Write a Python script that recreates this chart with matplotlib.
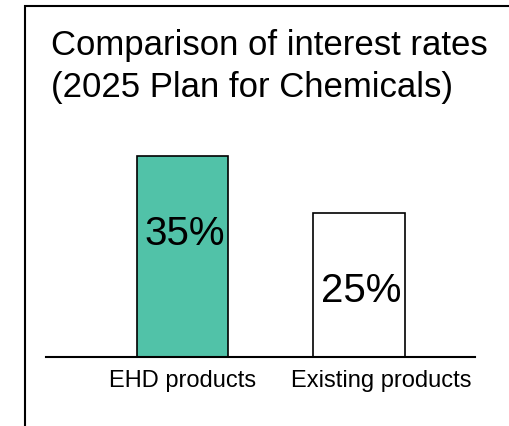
import matplotlib
matplotlib.use("Agg")
import matplotlib.pyplot as plt
import matplotlib.transforms as mtransforms
from matplotlib.patches import Rectangle

plt.rcParams["font.family"] = ["Liberation Sans", "DejaVu Sans"]

title_lines = ["Comparison of interest rates", "(2025 Plan for Chemicals)"]
categories = ["EHD products", "Existing products"]
rates = [35, 25]
value_labels = ["35%", "25%"]
bar_colors = ["#51C2A8", "#FFFFFF"]

W, H = 510, 426
fig = plt.figure(figsize=(W / 100, H / 100), dpi=100)

# frame around the slide panel (clipped at right and bottom like the source)
fig.patches.append(Rectangle((25 / W, -0.2), 1.2, 1.2 - 6 / H,
                             transform=fig.transFigure, fill=False,
                             edgecolor="black", linewidth=1.5))

fig.text(51 / W, 1 - 55 / H, title_lines[0], fontsize=25, va="baseline", ha="left")
fig.text(51 / W, 1 - 97 / H, title_lines[1], fontsize=25, va="baseline", ha="left")

ax = fig.add_axes([46 / W, 1 - 357 / H, (475 - 46) / W, (357 - 127) / H])
x = list(range(len(categories)))
bars = ax.bar(x, rates, width=0.516, color=bar_colors, edgecolor="black", linewidth=1.2)

for b, lab in zip(bars, value_labels):
    ax.annotate(lab, (b.get_x() + b.get_width() / 2 + 0.01, b.get_height()),
                xytext=(0, -64), textcoords="offset points",
                ha="center", va="baseline", fontsize=29)

ax.set_xlim(-0.773, 1.657)
ax.set_ylim(0, 40)
for s in ["top", "left", "right"]:
    ax.spines[s].set_visible(False)
ax.spines["bottom"].set_linewidth(1.5)
ax.set_yticks([])
ax.set_xticks(x)
ax.set_xticklabels(categories, fontsize=17)
ax.tick_params(axis="x", length=0, pad=9)

# second label sits a little right of its bar in the source
lbl = ax.get_xticklabels()[1]
lbl.set_transform(lbl.get_transform() + mtransforms.ScaledTranslation(22 / 100, 0, fig.dpi_scale_trans))

fig.savefig("out.png", dpi=100)
